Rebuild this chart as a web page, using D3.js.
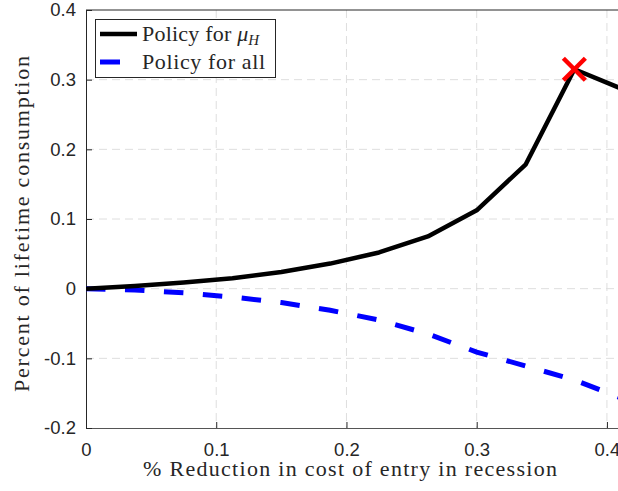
<!DOCTYPE html>
<html>
<head>
<meta charset="utf-8">
<script src="https://cdn.jsdelivr.net/npm/d3@7"></script>
<style>
  body { margin: 0; background: #fff; }
  .tick text { font-family: "Liberation Sans", Arial, sans-serif; font-size: 18.5px; fill: #262626; }
  .etiqueta { font-family: "Liberation Serif", "Times New Roman", serif; font-size: 22px; fill: #262626; }
</style>
</head>
<body>
<div id="chart"></div>
<script>
// datos
const reduccion = [0, 0.0375, 0.075, 0.1125, 0.15, 0.1875, 0.225, 0.2625, 0.3, 0.3375, 0.375, 0.4125]
const politicaMuH = [0, 0.004, 0.009, 0.015, 0.024, 0.036, 0.052, 0.075, 0.1125, 0.178, 0.315, 0.286]
const politicaTodos = [0, -0.002, -0.006, -0.012, -0.02, -0.031, -0.045, -0.065, -0.091, -0.111, -0.131, -0.158]
const ticksX = [0, 0.1, 0.2, 0.3, 0.4]
const ticksY = [-0.2, -0.1, 0, 0.1, 0.2, 0.3, 0.4]
const optimo = { x: 0.375, y: 0.315 }

const ancho = 618
const alto = 491
const margen = { izquierdo: 86, derecho: 0, superior: 10, inferior: 63 }
const anchoPlot = ancho - margen.izquierdo - margen.derecho
const altoPlot = alto - margen.superior - margen.inferior

const svg = d3.select("#chart").append("svg").attr("width", ancho).attr("height", alto)
const g = svg.append("g").attr("transform", `translate(${margen.izquierdo}, ${margen.superior})`)

const x = d3.scaleLinear().domain([0, 0.4085]).range([0, anchoPlot])
const y = d3.scaleLinear().domain([-0.2, 0.4]).range([altoPlot, 0])

svg.append("defs").append("clipPath").attr("id", "recorte")
  .append("rect").attr("width", anchoPlot).attr("height", altoPlot)

// rejilla
const rejilla = g.append("g").attr("stroke", "#dedede").attr("stroke-width", 1).attr("stroke-dasharray", "8,5")
rejilla.selectAll(".gx").data(ticksX.filter(d => d > 0)).enter().append("line")
  .attr("x1", d => x(d)).attr("x2", d => x(d)).attr("y1", 0).attr("y2", altoPlot)
rejilla.selectAll(".gy").data(ticksY.filter(d => d > -0.2 && d < 0.4)).enter().append("line")
  .attr("y1", d => y(d)).attr("y2", d => y(d)).attr("x1", 0).attr("x2", anchoPlot)

// ejes
const ejeX = d3.axisBottom(x).tickValues(ticksX).tickSizeInner(-6).tickSizeOuter(0).tickPadding(15).tickFormat(d => d === 0 ? "0" : d3.format(".1f")(d))
const ejeY = d3.axisLeft(y).tickValues(ticksY).tickSizeInner(-6).tickSizeOuter(0).tickPadding(10).tickFormat(d => d === 0 ? "0" : d3.format(".1f")(d).replace("−", "-"))

const gx = g.append("g").attr("transform", `translate(0, ${altoPlot})`).call(ejeX)
const gy = g.append("g").call(ejeY)
gx.selectAll("path, line").attr("stroke", "#262626")
gy.selectAll("path, line").attr("stroke", "#262626")
gx.select(".domain").attr("stroke", "#555")
g.append("line").attr("x1", 0).attr("x2", anchoPlot).attr("y1", 0).attr("y2", 0).attr("stroke", "#262626")

// lineas
const linea = d3.line().x((d, i) => x(reduccion[i])).y(d => y(d))
const series = g.append("g").attr("clip-path", "url(#recorte)")
series.append("path").datum(politicaTodos).attr("d", linea)
  .attr("fill", "none").attr("stroke", "#0000ff").attr("stroke-width", 5).attr("stroke-dasharray", "19.5,19.5")
series.append("path").datum(politicaMuH).attr("d", linea)
  .attr("fill", "none").attr("stroke", "#000").attr("stroke-width", 4.5).attr("stroke-linejoin", "round")

// marcador
const cx = x(optimo.x), cy = y(optimo.y), r = 11
const marca = g.append("g").attr("stroke", "#ff0000").attr("stroke-width", 4.5)
marca.append("line").attr("x1", cx - r).attr("y1", cy - r).attr("x2", cx + r).attr("y2", cy + r)
marca.append("line").attr("x1", cx - r).attr("y1", cy + r).attr("x2", cx + r).attr("y2", cy - r)

// leyenda
const leyenda = svg.append("g")
leyenda.append("rect").attr("x", 95.5).attr("y", 19.5).attr("width", 180).attr("height", 58)
  .attr("fill", "#fff").attr("stroke", "#262626").attr("stroke-width", 1)
leyenda.append("line").attr("x1", 100).attr("x2", 137).attr("y1", 34).attr("y2", 34).attr("stroke", "#000").attr("stroke-width", 4.5)
leyenda.append("line").attr("x1", 100).attr("x2", 120).attr("y1", 62).attr("y2", 62).attr("stroke", "#0000ff").attr("stroke-width", 5)
const t1 = leyenda.append("text").attr("class", "etiqueta").attr("x", 142).attr("y", 41)
t1.append("tspan").attr("textLength", 95).attr("lengthAdjust", "spacing").text("Policy for ")
t1.append("tspan").attr("font-style", "italic").text("μ")
t1.append("tspan").attr("font-style", "italic").attr("font-size", "15px").attr("dy", 4).text("H")
leyenda.append("text").attr("class", "etiqueta").attr("x", 142).attr("y", 69)
  .attr("textLength", 123).attr("lengthAdjust", "spacing").text("Policy for all")

// titulos de ejes
svg.append("text").attr("class", "etiqueta").attr("text-anchor", "middle")
  .attr("x", 350).attr("y", 476)
  .attr("textLength", 414).attr("lengthAdjust", "spacing")
  .text("% Reduction in cost of entry in recession")
svg.append("text").attr("class", "etiqueta").attr("text-anchor", "middle")
  .attr("transform", `translate(29, 224) rotate(-90)`)
  .attr("textLength", 336).attr("lengthAdjust", "spacing")
  .text("Percent of lifetime consumption")
</script>
</body>
</html>
